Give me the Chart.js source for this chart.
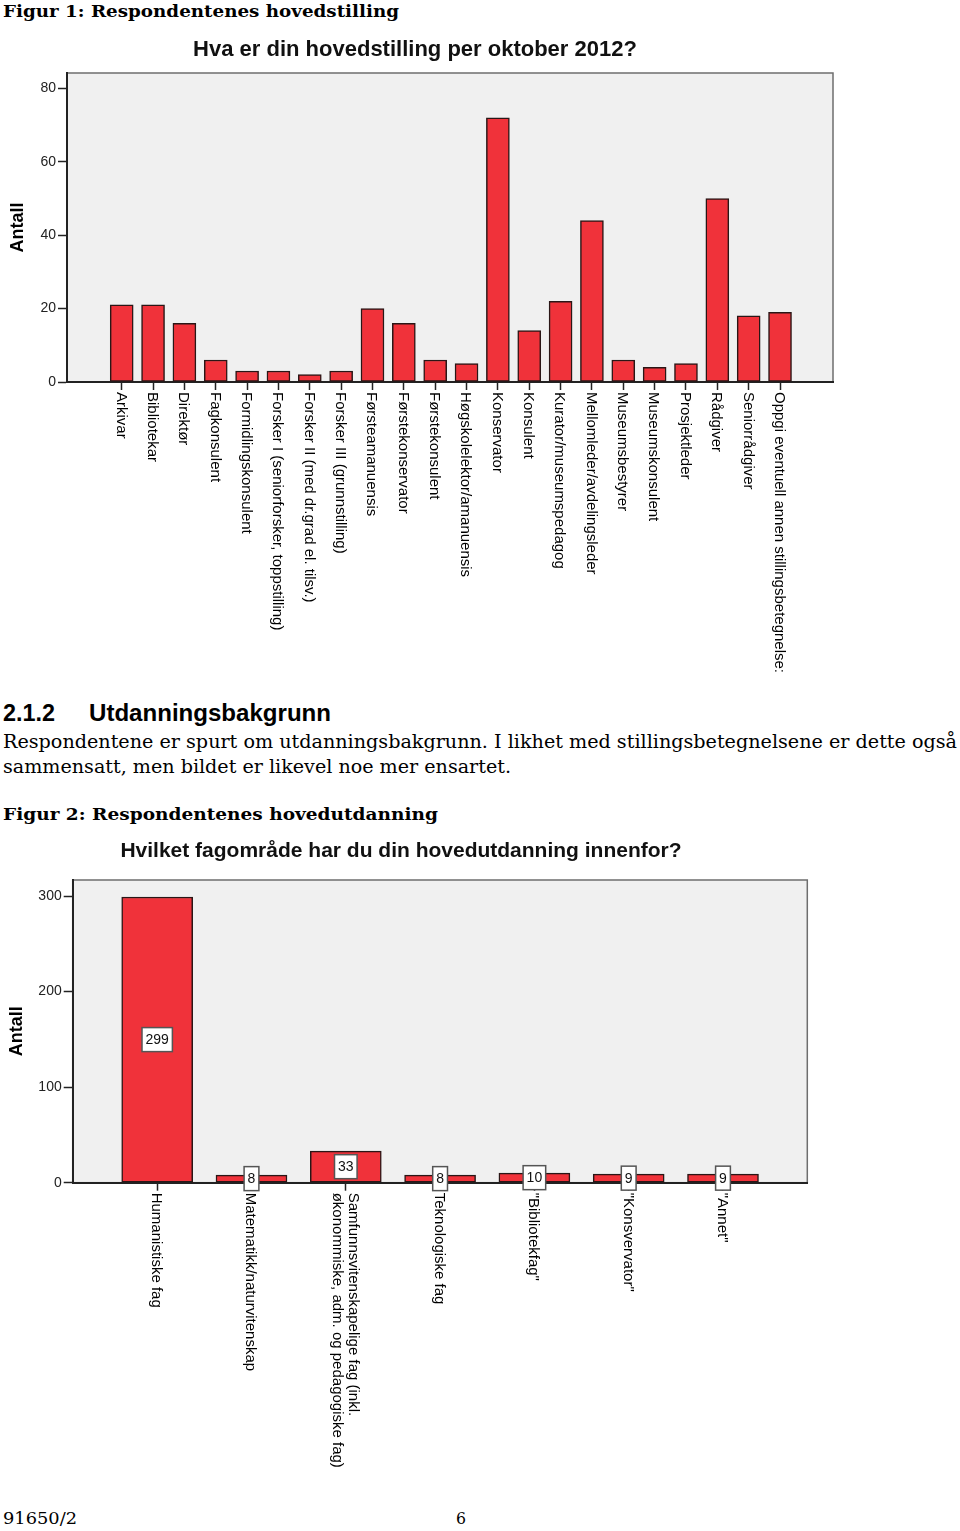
<!DOCTYPE html>
<html><head><meta charset="utf-8">
<script src="https://cdn.jsdelivr.net/npm/chart.js@4/dist/chart.umd.min.js"></script>
<style>
html,body{margin:0;padding:0;background:#fff;}
body{width:960px;height:1531px;position:relative;overflow:hidden;}
.t{position:absolute;white-space:nowrap;line-height:1;transform-origin:0 0;color:#000;}
.serif{font-family:"DejaVu Serif",serif;}
.sans{font-family:"Liberation Sans",Arial,sans-serif;}
canvas{position:absolute;left:0;}
</style></head><body>
<div class="t serif" style="left:3px;top:2.6px;font-size:17px;font-weight:bold" data-w="396">Figur 1: Respondentenes hovedstilling</div>
<canvas id="c1" width="960" height="664" style="top:26px"></canvas>
<div class="t sans" style="left:3px;top:700.7px;font-size:24px;font-weight:bold" data-w="52">2.1.2</div>
<div class="t sans" style="left:89px;top:700.7px;font-size:24px;font-weight:bold" data-w="242">Utdanningsbakgrunn</div>
<div class="t serif" style="left:3px;top:732.8px;font-size:18px" data-w="954">Respondentene er spurt om utdanningsbakgrunn. I likhet med stillingsbetegnelsene er dette også</div>
<div class="t serif" style="left:3px;top:757.8px;font-size:18px" data-w="508">sammensatt, men bildet er likevel noe mer ensartet.</div>
<div class="t serif" style="left:3px;top:805.6px;font-size:17px;font-weight:bold" data-w="435">Figur 2: Respondentenes hovedutdanning</div>
<canvas id="c2" width="960" height="642" style="top:830px"></canvas>
<div class="t serif" style="left:3px;top:1509.6px;font-size:17px" data-w="74">91650/2</div>
<div class="t serif" style="left:456px;top:1509.6px;font-size:17px" data-w="10">6</div>
<script>
// ---------- data ----------
const jobTitles = ['Arkivar','Bibliotekar','Direktør','Fagkonsulent','Formidlingskonsulent',
  'Forsker I (seniorforsker, toppstilling)','Forsker II (med dr.grad el. tilsv.)','Forsker III (grunnstilling)',
  'Førsteamanuensis','Førstekonservator','Førstekonsulent','Høgskolelektor/amanuensis','Konservator',
  'Konsulent','Kurator/museumspedagog','Mellomleder/avdelingsleder','Museumsbestyrer','Museumskonsulent',
  'Prosjektleder','Rådgiver','Seniorrådgiver','Oppgi eventuell annen stillingsbetegnelse:'];
const jobCounts = [21,21,16,6,3,3,2,3,20,16,6,5,72,14,22,44,6,4,5,50,18,19];
const jobYTicks = [0,20,40,60,80];
const jobTitleText = 'Hva er din hovedstilling per oktober 2012?';

const eduFields = ['Humanistiske fag','Matematikk/naturvitenskap',
  ['Samfunnsvitenskapelige fag (inkl.','økonommiske, adm. og pedagogiske fag)'],
  'Teknologiske fag','"Bibliotekfag"','"Konsvervator"','"Annet"'];
const eduCounts = [299,8,33,8,10,9,9];
const eduYTicks = [0,100,200,300];
const eduTitleText = 'Hvilket fagområde har du din hovedutdanning innenfor?';
const yAxisTitle = 'Antall';

// ---------- styling ----------
const RED = '#f0323a';
const FONT = '"Liberation Sans", Arial, sans-serif';

const panelPlugin = {
  id:'panel',
  beforeDraw(chart){
    const {ctx, chartArea:a} = chart;
    ctx.save();
    ctx.fillStyle = '#f0f0f0';
    ctx.fillRect(a.left, a.top, a.right-a.left, a.bottom-a.top);
    ctx.strokeStyle = '#6e6e6e';
    ctx.lineWidth = 1.5;
    ctx.strokeRect(a.left, a.top, a.right-a.left, a.bottom-a.top);
    ctx.restore();
  }
};
function titlePlugin(text, x, y, size){
  return {id:'ttl', afterDraw(chart){
    const ctx = chart.ctx; ctx.save();
    ctx.font = 'bold ' + size + 'px ' + FONT; ctx.fillStyle = '#111';
    ctx.textAlign = 'center'; ctx.textBaseline = 'middle';
    ctx.fillText(text, x, y); ctx.restore();
  }};
}
function rotLabelsPlugin(labels, offset, lineH){
  return {id:'rotLabels', afterDraw(chart){
    const xs = chart.scales.x, a = chart.chartArea, ctx = chart.ctx;
    ctx.save();
    ctx.font = '15px ' + FONT; ctx.fillStyle = '#000';
    ctx.textAlign = 'left'; ctx.textBaseline = 'middle';
    labels.forEach((lab, i) => {
      const lines = Array.isArray(lab) ? lab : [lab];
      ctx.save();
      ctx.translate(xs.getPixelForValue(i) - 1, a.bottom + offset);
      ctx.rotate(Math.PI/2);
      lines.forEach((ln, k) => ctx.fillText(ln, 0, (k - (lines.length-1)/2) * lineH));
      ctx.restore();
    });
    ctx.restore();
  }};
}
function valueBoxPlugin(values){
  return {id:'valBox', afterDraw(chart){
    const ctx = chart.ctx, meta = chart.getDatasetMeta(0);
    ctx.save();
    ctx.font = '14px ' + FONT;
    meta.data.forEach((bar, i) => {
      const txt = String(values[i]);
      const cx = bar.x, cy = (bar.y + bar.base) / 2;
      const w = ctx.measureText(txt).width + 7, h = 24;
      ctx.fillStyle = '#fff';
      ctx.fillRect(cx - w/2, cy - h/2, w, h);
      ctx.strokeStyle = '#555'; ctx.lineWidth = 1.5;
      ctx.strokeRect(cx - w/2, cy - h/2, w, h);
      ctx.fillStyle = '#111'; ctx.textAlign = 'center'; ctx.textBaseline = 'middle';
      ctx.fillText(txt, cx, cy + 0.5);
    });
    ctx.restore();
  }};
}

function build(id, cfg){
  return new Chart(document.getElementById(id), {
    type:'bar',
    data:{datasets:[{
      data: cfg.values.map((v,i)=>({x:i, y:v})),
      backgroundColor: RED, borderColor:'#2a1616', borderWidth:1.5,
      borderSkipped:false, barThickness: cfg.barW
    }]},
    options:{
      responsive:false, animation:false, events:[],
      layout:{padding:{left:0, right:cfg.padR, top:cfg.padT, bottom:cfg.padB}},
      plugins:{legend:{display:false}, tooltip:{enabled:false}, title:{display:false}},
      scales:{
        x:{type:'linear', min:cfg.xMin, max:cfg.xMax, offset:false,
          afterBuildTicks:s=>{ s.ticks = cfg.labels.map((_,i)=>({value:i})); },
          afterFit:s=>{ s.height = 10; },
          ticks:{display:false},
          grid:{display:true, offset:false, drawOnChartArea:false, drawTicks:true, tickLength:8, tickColor:'#222', tickWidth:1.5},
          border:{display:true, color:'#222', width:2}
        },
        y:{type:'linear', min:0, max:cfg.yMax,
          afterBuildTicks:s=>{ s.ticks = cfg.yTicks.map(v=>({value:v})); },
          afterFit:s=>{ s.width = cfg.yW; },
          ticks:{font:{family:FONT, size:14}, color:'#222', padding:2},
          grid:{drawOnChartArea:false, drawTicks:true, tickLength:9, tickColor:'#222', tickWidth:1.5},
          border:{display:true, color:'#222', width:2},
          title:{display:true, text:yAxisTitle, color:'#000',
            font:{family:FONT, size:18, weight:'bold'}, padding:{top:cfg.titlePad, bottom:0}}
        }
      }
    },
    plugins:[panelPlugin, titlePlugin(cfg.title, cfg.titleX, cfg.titleY, cfg.titleSize),
             rotLabelsPlugin(cfg.labels, 10, 16)].concat(cfg.boxes ? [valueBoxPlugin(cfg.values)] : [])
  });
}

build('c1', {labels:jobTitles, values:jobCounts, yTicks:jobYTicks, yMax:84.2,
  xMin:-1.745, xMax:22.69, barW:23, yW:67, padR:127, padT:47, padB:298, titlePad:7,
  title:jobTitleText, titleX:415, titleY:24, titleSize:22, boxes:false});
build('c2', {labels:eduFields, values:eduCounts, yTicks:eduYTicks, yMax:316.8,
  xMin:-0.896, xMax:6.894, barW:71, yW:72.7, padR:152.7, padT:50, padB:279.3, titlePad:6,
  title:eduTitleText, titleX:401, titleY:21, titleSize:21, boxes:true});

document.querySelectorAll('[data-w]').forEach(el => {
  const w = el.getBoundingClientRect().width;
  if (w > 0) el.style.transform = 'scaleX(' + (parseFloat(el.dataset.w) / w) + ')';
});
</script>
</body></html>
